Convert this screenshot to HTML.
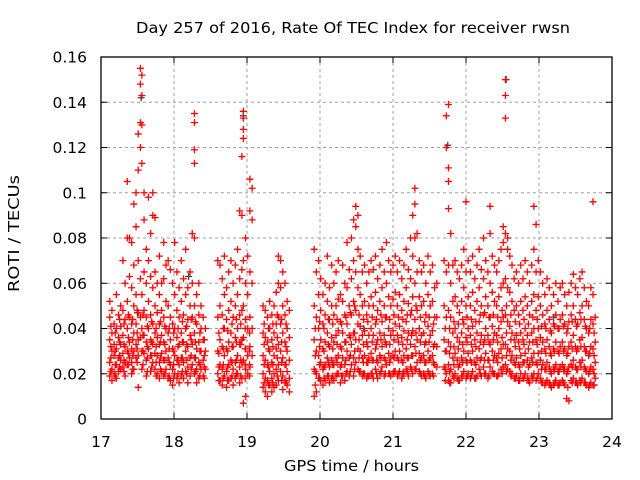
<!DOCTYPE html>
<html><head><meta charset="utf-8"><style>
body{margin:0;background:#fff;}
svg{display:block;font-family:"DejaVu Sans","Liberation Sans",sans-serif;}
</style></head><body>
<svg id="chart" width="640" height="480" viewBox="0 0 640 480">
<rect x="0" y="0" width="640" height="480" fill="#fff"/>
<g id="grid"></g>
<g id="pts"></g>
<g id="axes"></g>
<text x="136" y="33" font-size="15" textLength="434" lengthAdjust="spacingAndGlyphs" fill="#000">Day 257 of 2016, Rate Of TEC Index for receiver rwsn</text>
<text x="284" y="471" font-size="15" textLength="135" lengthAdjust="spacingAndGlyphs" fill="#000">GPS time / hours</text>
<text x="0" y="0" font-size="15" textLength="117" lengthAdjust="spacingAndGlyphs" fill="#000" transform="translate(19,292) rotate(-90)">ROTI / TECUs</text>
</svg>
<script>
const xTicks=[17,18,19,20,21,22,23,24];
const yTicks=[0,0.02,0.04,0.06,0.08,0.1,0.12,0.14,0.16];
const yTickLabels=["0","0.02","0.04","0.06","0.08","0.1","0.12","0.14","0.16"];
const graySeries=[[17.55,0.142],[18.95,0.134],[21.75,0.121],[22.55,0.150],[17.5,0.047],[18.2,0.063],[20.6,0.040],[23.2,0.045]];
const redSamples=[
[17.12,[.052,.045,.035,.025,.019]],[17.15,[.048,.038,.030,.022,.017]],[17.18,[.042,.033,.028,.020]],[17.21,[.055,.040,.031,.024,.018]],[17.24,[.046,.036,.027,.021]],[17.27,[.050,.041,.033,.026,.022]],[17.30,[.070,.048,.037,.029,.023]],[17.33,[.060,.044,.032,.025,.019]],[17.36,[.105,.080,.052,.040,.030,.024]],[17.39,[.080,.063,.045,.034,.027]],[17.42,[.078,.058,.042,.031,.025,.020]],[17.45,[.095,.068,.050,.038,.030,.022]],[17.48,[.100,.085,.055,.042,.033,.027]],[17.51,[.126,.110,.070,.047,.035,.028,.014]],[17.54,[.155,.148,.131,.120,.062,.045,.036]],[17.56,[.152,.143,.130,.113,.055,.040,.030,.022]],[17.59,[.100,.088,.065,.048,.037,.029]],[17.62,[.075,.060,.045,.034,.026,.019]],[17.65,[.098,.070,.052,.040,.031]],[17.68,[.082,.063,.046,.035,.028,.021]],[17.71,[.100,.090,.058,.042,.033,.025]],[17.74,[.089,.065,.050,.038,.029,.022]],[17.77,[.060,.047,.036,.028,.020]],[17.80,[.072,.055,.042,.033,.025,.018]],[17.83,[.060,.048,.037,.029,.021]],[17.86,[.078,.062,.045,.034,.026,.019]],[17.89,[.068,.052,.040,.030,.022]],[17.92,[.070,.050,.038,.027,.018]],
[17.95,[.066,.045,.035,.024,.017]],[17.98,[.060,.042,.031,.022,.015]],[18.01,[.078,.055,.040,.028,.020]],[18.04,[.065,.048,.036,.026,.018]],[18.07,[.058,.045,.033,.024,.016]],[18.10,[.070,.052,.038,.027,.019]],[18.13,[.062,.046,.034,.025,.018]],[18.16,[.075,.055,.040,.030,.021]],[18.19,[.058,.044,.032,.023,.016]],[18.22,[.065,.050,.037,.027,.019]],[18.25,[.082,.060,.045,.033,.024]],[18.28,[.135,.131,.119,.113,.080,.050,.038,.027,.020]],[18.31,[.055,.042,.031,.022,.016]],[18.34,[.060,.046,.034,.025,.018]],[18.37,[.050,.040,.030,.022]],[18.40,[.045,.035,.026,.019]],[18.43,[.040,.030,.022]],
[18.60,[.070,.045,.030,.020]],[18.63,[.068,.050,.035,.024,.017]],[18.66,[.062,.046,.032,.022,.015]],[18.69,[.072,.055,.040,.028,.019]],[18.72,[.058,.044,.031,.021,.014]],[18.75,[.065,.048,.034,.024,.017]],[18.78,[.070,.052,.038,.026,.018]],[18.81,[.060,.045,.032,.022,.015]],[18.84,[.068,.050,.036,.025,.018]],[18.87,[.075,.055,.040,.028,.020]],[18.90,[.092,.062,.046,.033,.023,.016]],[18.93,[.116,.090,.066,.048,.035,.025,.018]],[18.95,[.136,.133,.128,.124,.070,.050,.036,.026,.007]],[18.98,[.080,.060,.044,.031,.022,.010]],[19.01,[.072,.055,.040,.028,.020]],[19.04,[.106,.092,.065,.045,.032,.023]],[19.07,[.102,.088,.060,.040,.028]],
[19.22,[.050,.038,.028,.020,.014]],[19.25,[.048,.036,.026,.018,.012]],[19.28,[.045,.034,.024,.017,.010]],[19.31,[.052,.040,.030,.021,.015]],[19.34,[.046,.035,.025,.018,.012]],[19.37,[.050,.038,.028,.020,.014]],[19.40,[.056,.042,.031,.022,.015]],[19.43,[.072,.060,.045,.033,.024,.017]],[19.46,[.070,.058,.042,.030,.021]],[19.49,[.065,.050,.038,.027,.019,.013]],[19.52,[.060,.046,.034,.024,.017]],[19.55,[.052,.040,.030,.021,.015]],[19.58,[.048,.036,.026,.018,.012]],
[19.92,[.075,.050,.035,.022,.010]],[19.95,[.065,.045,.030,.020,.012]],[19.98,[.070,.055,.040,.028,.018]],[20.01,[.062,.048,.035,.025,.017]],[20.04,[.055,.042,.031,.022,.015]],[20.07,[.060,.046,.034,.024,.017]],[20.10,[.072,.052,.038,.027,.019]],[20.13,[.058,.044,.032,.023,.016]],[20.16,[.068,.050,.036,.026,.018]],[20.19,[.060,.046,.034,.024,.017]],[20.22,[.065,.050,.037,.027,.019]],[20.25,[.070,.053,.039,.028,.020]],[20.28,[.055,.043,.032,.023,.016]],[20.31,[.068,.052,.038,.027,.019]],[20.34,[.060,.046,.034,.024,.017]],[20.37,[.078,.058,.042,.030,.021]],[20.40,[.066,.050,.037,.027,.019]],[20.43,[.080,.062,.046,.033,.024]],[20.46,[.088,.070,.052,.038,.027,.019]],[20.49,[.094,.085,.065,.048,.035,.025]],[20.52,[.090,.075,.058,.042,.031,.022]],[20.55,[.072,.055,.041,.030,.021]],[20.58,[.065,.050,.037,.027,.019]],[20.61,[.068,.052,.039,.028,.020]],[20.64,[.060,.046,.034,.025,.018]],[20.67,[.065,.050,.037,.027,.019]],[20.70,[.070,.054,.040,.029,.020]],[20.73,[.066,.050,.037,.026,.018]],[20.76,[.072,.056,.042,.031,.022]],[20.79,[.062,.048,.035,.025,.018]],[20.82,[.068,.052,.038,.028,.020]],[20.85,[.075,.058,.043,.032,.023]],[20.88,[.065,.050,.037,.027,.019]],[20.91,[.078,.060,.045,.033,.024]],[20.94,[.070,.054,.040,.029,.020]],[20.97,[.065,.050,.037,.027,.019]],[21.00,[.068,.053,.039,.028,.020]],[21.03,[.072,.056,.042,.030,.021]],[21.06,[.065,.050,.037,.027,.019]],[21.09,[.070,.055,.041,.030,.021]],[21.12,[.062,.048,.036,.026,.018]],[21.15,[.068,.052,.039,.028,.020]],[21.18,[.075,.058,.043,.031,.022]],[21.21,[.066,.051,.038,.027,.019]],[21.24,[.080,.062,.046,.033,.023]],[21.27,[.090,.072,.054,.039,.028,.020]],[21.30,[.102,.095,.080,.060,.044,.032,.022]],[21.33,[.082,.065,.048,.035,.025]],[21.36,[.070,.054,.040,.029,.021]],[21.39,[.065,.050,.037,.027,.019]],[21.42,[.068,.052,.038,.028,.020]],[21.45,[.060,.046,.034,.025,.018]],[21.48,[.072,.055,.041,.030,.021]],[21.51,[.065,.050,.037,.027,.019]],[21.54,[.068,.052,.039,.028,.020]],[21.57,[.058,.045,.033,.024]],[21.60,[.060,.045,.032,.023]],
[21.70,[.070,.050,.035,.023]],[21.73,[.134,.120,.065,.045,.030,.020]],[21.76,[.139,.111,.105,.093,.068,.048,.034,.024,.017]],[21.79,[.082,.060,.045,.032,.022,.016]],[21.82,[.068,.052,.038,.027,.019]],[21.85,[.070,.054,.040,.029,.020]],[21.88,[.065,.050,.036,.026,.018]],[21.91,[.062,.047,.034,.024,.017]],[21.94,[.068,.052,.038,.027,.019]],[21.97,[.075,.058,.042,.030,.021]],[22.00,[.096,.065,.050,.036,.026,.018]],[22.03,[.070,.054,.040,.029,.020]],[22.06,[.065,.050,.037,.026,.018]],[22.09,[.072,.056,.041,.030,.021]],[22.12,[.062,.048,.035,.025,.018]],[22.15,[.068,.052,.038,.027,.019]],[22.18,[.075,.058,.043,.031,.022]],[22.21,[.066,.050,.037,.027,.019]],[22.24,[.080,.062,.046,.033,.023]],[22.27,[.070,.054,.040,.029,.020]],[22.30,[.065,.050,.037,.026,.018]],[22.33,[.094,.082,.060,.045,.033,.023]],[22.36,[.072,.056,.041,.030,.021]],[22.39,[.068,.052,.038,.028,.020]],[22.42,[.065,.050,.037,.027,.019]],[22.45,[.070,.054,.040,.029,.020]],[22.48,[.075,.058,.043,.031,.022]],[22.51,[.085,.078,.060,.045,.033,.023]],[22.54,[.150,.143,.133,.082,.062,.046,.033,.024]],[22.57,[.080,.075,.058,.043,.031,.022]],[22.60,[.072,.056,.041,.030,.021]],[22.63,[.068,.052,.038,.028,.020]],[22.66,[.062,.048,.035,.025,.018]],[22.69,[.065,.050,.037,.027,.019]],[22.72,[.060,.046,.034,.024,.017]],[22.75,[.068,.052,.038,.028,.020]],[22.78,[.062,.048,.035,.025,.018]],[22.81,[.070,.054,.040,.029,.020]],[22.84,[.065,.050,.037,.026,.018]],[22.87,[.060,.046,.034,.024,.016]],[22.90,[.068,.052,.038,.027,.019]],[22.93,[.094,.075,.055,.040,.029,.020]],[22.96,[.086,.065,.048,.035,.025,.017]],[22.99,[.070,.054,.040,.029,.020]],[23.02,[.065,.050,.036,.026,.018]],[23.05,[.060,.046,.034,.024,.016]],[23.08,[.055,.042,.031,.022,.015]],[23.11,[.062,.048,.035,.025,.017]],[23.14,[.058,.044,.032,.023,.016]],[23.17,[.050,.038,.028,.020,.014]],[23.20,[.055,.042,.031,.022,.015]],[23.23,[.060,.046,.034,.024,.017]],[23.26,[.052,.040,.030,.021,.015]],[23.29,[.058,.044,.032,.023,.016]],[23.32,[.060,.046,.034,.024,.017]],[23.35,[.055,.042,.031,.022,.015]],[23.38,[.050,.038,.028,.020,.009]],[23.41,[.056,.043,.032,.023,.008]],[23.44,[.060,.046,.034,.024,.017]],[23.47,[.064,.050,.037,.026,.018]],[23.50,[.058,.044,.032,.023,.016]],[23.53,[.055,.042,.031,.022,.015]],[23.56,[.062,.047,.035,.025,.017]],[23.59,[.065,.050,.036,.026,.018]],[23.62,[.058,.044,.032,.023,.016]],[23.65,[.052,.040,.030,.021,.015]],[23.68,[.050,.038,.028,.020,.014]],[23.71,[.058,.044,.032,.023,.016]],[23.74,[.096,.055,.042,.031,.022,.015]],[23.77,[.045,.034,.025,.018]]
];
const redBandFill=[
[17.135,[.041,.032,.027,.021]],[17.195,[.038,.030,.024,.019]],[17.255,[.044,.034,.028,.023]],[17.315,[.042,.033,.026,.021]],[17.375,[.046,.036,.029,.024]],[17.435,[.044,.035,.028,.022]],[17.495,[.048,.038,.031,.025]],[17.575,[.046,.037,.030,.024]],[17.635,[.041,.032,.027,.021]],[17.695,[.043,.034,.028,.023]],[17.755,[.040,.032,.025,.019]],[17.815,[.043,.034,.027,.022]],[17.875,[.041,.033,.026,.020]],
[17.935,[.040,.031,.025,.019]],[17.995,[.038,.030,.024,.018]],[18.055,[.040,.032,.026,.020]],[18.115,[.043,.034,.027,.021]],[18.175,[.041,.033,.026,.020]],[18.235,[.044,.035,.028,.022]],[18.295,[.043,.034,.027,.021]],[18.355,[.038,.030,.024,.019]],[18.415,[.035,.028,.023,.018]],
[18.615,[.038,.029,.023,.017]],[18.675,[.040,.031,.024,.018]],[18.735,[.039,.030,.023,.017]],[18.795,[.042,.032,.025,.019]],[18.855,[.044,.034,.026,.020]],[18.915,[.042,.033,.026,.019]],[18.975,[.040,.031,.024,.018]],[19.035,[.038,.030,.024,.019]],
[19.235,[.042,.033,.024,.016]],[19.295,[.040,.031,.023,.015]],[19.355,[.042,.032,.024,.016]],[19.415,[.046,.036,.027,.019]],[19.475,[.044,.034,.025,.017]],[19.535,[.042,.032,.024,.016]],
[19.935,[.040,.028,.021,.015]],[19.995,[.043,.032,.024,.018]],[20.055,[.040,.030,.023,.018]],[20.115,[.044,.033,.025,.019]],[20.175,[.042,.031,.024,.019]],[20.235,[.044,.033,.025,.020]],[20.295,[.042,.031,.024,.019]],[20.355,[.045,.034,.026,.020]],[20.415,[.047,.036,.028,.021]],[20.475,[.050,.038,.030,.022]],[20.535,[.046,.035,.027,.021]],[20.595,[.044,.033,.025,.020]],[20.655,[.043,.032,.025,.019]],[20.715,[.045,.034,.026,.020]],[20.775,[.044,.033,.026,.020]],[20.835,[.046,.035,.027,.021]],[20.895,[.045,.034,.026,.020]],[20.955,[.044,.033,.025,.020]],[21.015,[.046,.035,.027,.021]],[21.075,[.045,.034,.026,.020]],[21.135,[.044,.033,.025,.020]],[21.195,[.046,.035,.027,.021]],[21.255,[.048,.037,.028,.022]],[21.315,[.050,.038,.029,.022]],[21.375,[.045,.034,.026,.020]],[21.435,[.043,.033,.025,.019]],[21.495,[.045,.034,.026,.020]],[21.555,[.042,.032,.025,.019]],
[21.715,[.040,.030,.022,.017]],[21.775,[.040,.029,.021,.016]],[21.835,[.043,.032,.024,.018]],[21.895,[.042,.031,.023,.017]],[21.955,[.044,.033,.025,.019]],[22.015,[.045,.034,.025,.019]],[22.075,[.044,.033,.025,.019]],[22.135,[.043,.032,.024,.018]],[22.195,[.046,.034,.026,.020]],[22.255,[.047,.035,.026,.020]],[22.315,[.045,.034,.026,.019]],[22.375,[.046,.035,.026,.020]],[22.435,[.045,.034,.025,.019]],[22.495,[.048,.036,.027,.020]],[22.555,[.050,.038,.028,.021]],[22.615,[.046,.035,.026,.019]],[22.675,[.043,.032,.024,.018]],[22.735,[.042,.031,.023,.017]],[22.795,[.044,.033,.025,.018]],[22.855,[.042,.031,.023,.017]],[22.915,[.045,.034,.025,.018]],[22.975,[.044,.033,.024,.018]],[23.035,[.041,.030,.022,.016]],[23.095,[.040,.029,.022,.016]],[23.155,[.039,.029,.021,.015]],[23.215,[.041,.030,.022,.016]],[23.275,[.040,.029,.021,.015]],[23.335,[.041,.030,.022,.016]],[23.395,[.040,.029,.021,.014]],[23.455,[.043,.031,.023,.016]],[23.515,[.041,.030,.022,.016]],[23.575,[.044,.032,.023,.016]],[23.635,[.041,.030,.022,.016]],[23.695,[.040,.029,.021,.015]],[23.755,[.038,.028,.020,.015]]
];
const NS="http://www.w3.org/2000/svg";
const L=101,R=612,T=57,B=419;
function xs(v){return L+(v-17)/(24-17)*(R-L);}
function ys(v){return B-v/0.16*(B-T);}
function mk(tag,attrs,parent){const e=document.createElementNS(NS,tag);for(const k in attrs)e.setAttribute(k,attrs[k]);parent.appendChild(e);return e;}
const grid=document.getElementById('grid'),axes=document.getElementById('axes'),pts=document.getElementById('pts');
xTicks.forEach((t,i)=>{
  const x=xs(t);
  if(i>0&&i<xTicks.length-1){const g=mk('line',{x1:x,y1:T,x2:x,y2:B,stroke:'#a0a0a0','stroke-dasharray':'3,3'},grid);
  
  }
  const tk=mk('path',{d:`M${x},${B}v-6M${x},${T}v6`,stroke:'#000'},axes);
  
  
  const lb=mk('text',{x:x,y:B+28,'font-size':15.5,'text-anchor':'middle'},axes);lb.textContent=String(t);
  
  
});
yTicks.forEach((t,i)=>{
  const y=ys(t);
  if(i>0&&i<yTicks.length-1){const g=mk('line',{x1:L,y1:y,x2:R,y2:y,stroke:'#a0a0a0','stroke-dasharray':'3,3'},grid);
  
  }
  const tk=mk('path',{d:`M${L},${y}h6M${R},${y}h-6`,stroke:'#000'},axes);
  
  
  const lb=mk('text',{x:L-14,y:y+5.5,'font-size':15.5,'text-anchor':'end'},axes);lb.textContent=yTickLabels[i];
  
  
});
const frame=mk('rect',{x:L,y:T,width:R-L,height:B-T,fill:'none',stroke:'#000','stroke-width':1.3},axes);


function plus(t,v,col){const x=xs(t),y=ys(v);
  const p=mk('path',{d:`M${x-3.5},${y}h7M${x},${y-3.5}v7`,stroke:col,'stroke-width':1.3},pts);
  return p;}
graySeries.forEach(d=>{const p=plus(d[0],d[1],'#444');
  
  });
redSamples.forEach(r=>r[1].forEach(v=>{const p=plus(r[0],v,'#ff0000');
  
  }));
redBandFill.forEach(r=>r[1].forEach(v=>{const p=plus(r[0],v,'#ff0000');
  
  }));
</script>
</body></html>
